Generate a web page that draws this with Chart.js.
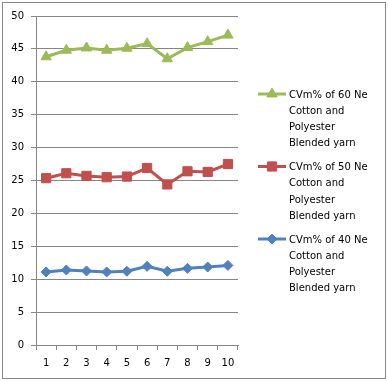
<!DOCTYPE html>
<html>
<head>
<meta charset="utf-8">
<script src="https://cdn.jsdelivr.net/npm/chart.js@4.4.1/dist/chart.umd.min.js"></script>
<style>
	body { margin: 0; background: #fff; }
	#wrap { position: relative; width: 388px; height: 382px; }
	#frame { position: absolute; left: 2px; top: 2px; width: 382px; height: 375px; border: 1px solid #868686; pointer-events: none; }
	canvas { position: absolute; left: 0; top: 0; }
</style>
</head>
<body>
<div id="wrap">
	<canvas id="cvmChart" width="388" height="382"></canvas>
	<div id="frame"></div>
</div>
<script>
// samples 1..10
const samples = ['1', '2', '3', '4', '5', '6', '7', '8', '9', '10'];

// CVm% values
const cv40 = [11.1, 11.4, 11.25, 11.1, 11.2, 11.95, 11.2, 11.65, 11.85, 12.1];
const cv50 = [25.35, 26.1, 25.7, 25.5, 25.6, 26.9, 24.4, 26.4, 26.3, 27.5];
const cv60 = [43.8, 44.8, 45.15, 44.8, 45.1, 45.8, 43.5, 45.2, 46.1, 47.1];

const label40 = ['CVm% of 40 Ne', 'Cotton and', 'Polyester', 'Blended yarn'];
const label50 = ['CVm% of 50 Ne', 'Cotton and', 'Polyester', 'Blended yarn'];
const label60 = ['CVm% of 60 Ne', 'Cotton and', 'Polyester', 'Blended yarn'];

const gridColor = '#868686';
const fontFamily = "'DejaVu Sans', Verdana, sans-serif";

function series(label, data, color, style, radius) {
	return {
		label: label,
		data: data,
		borderColor: color,
		backgroundColor: color,
		borderWidth: 3,
		tension: 0,
		pointStyle: style,
		pointRadius: radius,
		pointBorderWidth: 1,
		pointBorderColor: color,
		pointBackgroundColor: color
	};
}

// legend drawn on the canvas so the labels can wrap over several lines
const sideLegend = {
	id: 'sideLegend',
	afterDraw(chart) {
		const ctx = chart.ctx;
		const rows = [94, 166.5, 239];
		const sets = chart.data.datasets.slice().reverse();
		ctx.save();
		sets.forEach((ds, i) => {
			const y = rows[i];
			ctx.strokeStyle = ds.borderColor;
			ctx.lineWidth = 3;
			ctx.beginPath();
			ctx.moveTo(258, y);
			ctx.lineTo(286, y);
			ctx.stroke();
			ctx.fillStyle = ds.borderColor;
			ctx.lineWidth = 1;
			Chart.helpers.drawPoint(ctx, { pointStyle: ds.pointStyle, radius: ds.pointRadius, borderWidth: 1, rotation: 0 }, 272, y);
			ctx.fillStyle = '#000';
			ctx.font = '10px ' + fontFamily;
			ctx.textAlign = 'left';
			ctx.textBaseline = 'middle';
			ds.label.forEach((line, j) => {
				ctx.fillText(line, 289, y + 1 + j * 16.3);
			});
		});
		ctx.restore();
	}
};

const cvmChart = new Chart(document.getElementById('cvmChart'), {
	type: 'line',
	data: {
		labels: samples,
		datasets: [
			series(label40, cv40, '#4F81BD', 'rectRot', 5),
			series(label50, cv50, '#C0504D', 'rect', 6.5),
			series(label60, cv60, '#9BBB59', 'triangle', 6)
		]
	},
	options: {
		responsive: false,
		animation: false,
		layout: {
			padding: { top: 16, right: 150, bottom: 0, left: 0 }
		},
		plugins: {
			legend: { display: false },
			tooltip: { enabled: false }
		},
		scales: {
			x: {
				offset: true,
				grid: {
					display: true,
					offset: true,
					drawOnChartArea: false,
					tickLength: 5,
					color: gridColor
				},
				border: { color: gridColor },
				ticks: {
					color: '#000',
					padding: 7,
					maxRotation: 0,
					font: { family: fontFamily, size: 10 }
				},
				afterFit: scale => { scale.height = 37; }
			},
			y: {
				min: 0,
				max: 50,
				grid: {
					color: gridColor,
					tickLength: 5
				},
				border: { color: gridColor },
				ticks: {
					stepSize: 5,
					color: '#000',
					padding: 7,
					font: { family: fontFamily, size: 10 }
				},
				afterFit: scale => { scale.width = 36; }
			}
		}
	},
	plugins: [sideLegend]
});
</script>
</body>
</html>
